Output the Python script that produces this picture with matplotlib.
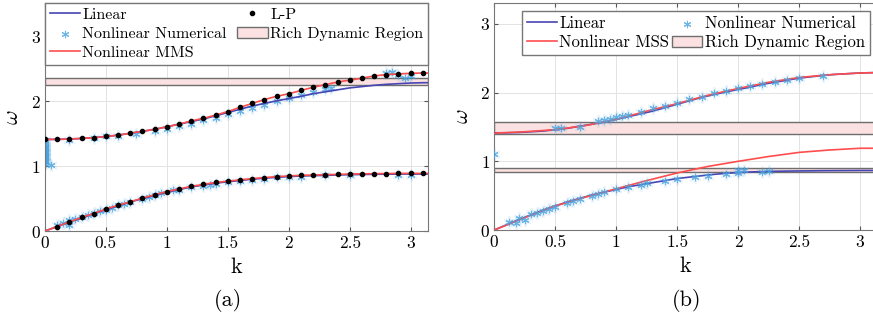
import numpy as np
import matplotlib.pyplot as plt

plt.rcParams['font.family'] = ['cmr10', 'DejaVu Serif']
plt.rcParams['mathtext.fontset'] = 'cm'
plt.rcParams['axes.formatter.use_mathtext'] = True

# k grid for the curves
k_line = [0.0, 0.1, 0.2, 0.3, 0.4, 0.5, 0.6, 0.7, 0.8, 0.9, 1.0, 1.1, 1.2, 1.3, 1.4, 1.5,
          1.6, 1.7, 1.8, 1.9, 2.0, 2.1, 2.2, 2.3, 2.4, 2.5, 2.6, 2.7, 2.8, 2.9, 3.0, 3.1, 3.1416]

# linear dispersion
lin_ac = [0.0, 0.07, 0.14, 0.20, 0.27, 0.33, 0.39, 0.45, 0.50, 0.55, 0.60, 0.64, 0.68, 0.71,
          0.74, 0.76, 0.78, 0.80, 0.815, 0.83, 0.84, 0.85, 0.855, 0.86, 0.865, 0.87, 0.873,
          0.876, 0.878, 0.879, 0.88, 0.88, 0.88]
lin_op = [1.415, 1.415, 1.42, 1.43, 1.44, 1.46, 1.48, 1.51, 1.54, 1.57, 1.61, 1.65, 1.69,
          1.73, 1.78, 1.83, 1.88, 1.93, 1.97, 2.01, 2.045, 2.08, 2.12, 2.15, 2.18, 2.21, 2.23,
          2.25, 2.265, 2.275, 2.285, 2.29, 2.29]

# (a) nonlinear MMS
mms_ac = [0.0, 0.07, 0.14, 0.21, 0.27, 0.34, 0.40, 0.45, 0.51, 0.56, 0.61, 0.65, 0.69, 0.72,
          0.75, 0.77, 0.79, 0.81, 0.825, 0.84, 0.85, 0.86, 0.865, 0.87, 0.875, 0.88, 0.883,
          0.886, 0.888, 0.889, 0.89, 0.89, 0.89]
mms_op = [1.415, 1.415, 1.42, 1.43, 1.44, 1.46, 1.48, 1.51, 1.54, 1.57, 1.61, 1.65, 1.70,
          1.74, 1.79, 1.845, 1.91, 1.97, 2.03, 2.08, 2.12, 2.17, 2.22, 2.26, 2.30, 2.33, 2.36,
          2.395, 2.415, 2.425, 2.435, 2.44, 2.44]

# (a) L-P dots
lp_k_ac = [0.1, 0.2, 0.3, 0.4, 0.5, 0.6, 0.7, 0.8, 0.9, 1.0, 1.1, 1.2, 1.3, 1.4, 1.5, 1.6, 1.7,
           1.8, 1.9, 2.0, 2.1, 2.2, 2.3, 2.4, 2.5, 2.6, 2.7, 2.8, 2.9, 3.0, 3.1]
lp_ac = [0.07, 0.14, 0.21, 0.27, 0.34, 0.40, 0.45, 0.51, 0.56, 0.61, 0.65, 0.69, 0.72, 0.75,
         0.77, 0.79, 0.81, 0.825, 0.84, 0.85, 0.86, 0.865, 0.87, 0.875, 0.88, 0.883, 0.886,
         0.888, 0.889, 0.89, 0.89]
lp_k_op = [0.0] + lp_k_ac
lp_op = [1.415, 1.415, 1.42, 1.43, 1.44, 1.46, 1.48, 1.51, 1.54, 1.57, 1.61, 1.65, 1.70,
         1.74, 1.79, 1.845, 1.91, 1.97, 2.03, 2.08, 2.12, 2.17, 2.22, 2.26, 2.30, 2.33, 2.36,
         2.395, 2.415, 2.425, 2.435, 2.44]

# (a) nonlinear numerical
num_a_k = [0.1, 0.15, 0.2, 0.2, 0.25, 0.3, 0.35, 0.4, 0.45, 0.5, 0.55, 0.6, 0.65, 0.7, 0.8,
           0.85, 0.9, 0.95, 1.05, 1.1, 1.2, 1.3, 1.35, 1.4, 1.5, 1.6, 1.7, 1.8, 1.9, 2.0, 2.1,
           2.3, 2.5, 2.9, 3.0,
           0.05, 0.2, 0.4, 0.5, 0.6, 0.75, 0.9, 1.0, 1.1, 1.2, 1.3, 1.4, 1.5, 1.6, 1.7, 1.8,
           1.9, 2.0, 2.1, 2.2, 2.3, 2.35, 2.8, 2.85, 2.9, 2.95, 3.0,
           0, 0, 0, 0, 0, 0, 0, 0, 0, 0, 0, 0, 0, 0, 0, 0, 0, 0]
num_a_w = [0.10, 0.13, 0.10, 0.17, 0.19, 0.22, 0.25, 0.28, 0.31, 0.33, 0.36, 0.40, 0.42, 0.45,
           0.49, 0.53, 0.56, 0.58, 0.63, 0.64, 0.68, 0.70, 0.71, 0.73, 0.76, 0.77, 0.79, 0.81,
           0.83, 0.83, 0.84, 0.86, 0.87, 0.86, 0.87,
           1.02, 1.41, 1.44, 1.46, 1.47, 1.50, 1.54, 1.58, 1.62, 1.66, 1.71, 1.75, 1.80, 1.85,
           1.90, 1.95, 2.00, 2.05, 2.10, 2.15, 2.19, 2.21, 2.44, 2.45, 2.41, 2.37, 2.39,
           1.04, 1.06, 1.08, 1.10, 1.12, 1.14, 1.16, 1.18, 1.20, 1.22, 1.24, 1.26, 1.28, 1.30,
           1.32, 1.35, 1.38, 1.41]

# (b) linear acoustic branch
lin_b_ac = [0.0, 0.075, 0.15, 0.22, 0.29, 0.35, 0.41, 0.46, 0.51, 0.55, 0.59, 0.63, 0.66,
            0.69, 0.72, 0.75, 0.77, 0.79, 0.81, 0.825, 0.835, 0.845, 0.85, 0.855, 0.858,
            0.86, 0.862, 0.864, 0.865, 0.866, 0.867, 0.867, 0.867]

# (b) nonlinear MSS
mss_k = [0.0, 0.25, 0.5, 0.75, 1.0, 1.25, 1.5, 1.75, 2.0, 2.25, 2.5, 2.75, 3.0, 3.1416]
mss_ac = [0.0, 0.18, 0.35, 0.48, 0.60, 0.72, 0.83, 0.925, 1.00, 1.07, 1.13, 1.165, 1.19, 1.19]
mss_op = [1.41, 1.43, 1.46, 1.52, 1.61, 1.73, 1.84, 1.96, 2.06, 2.15, 2.22, 2.26, 2.285, 2.29]

# (b) nonlinear numerical
num_b_k = [0.0, 0.5, 0.55, 0.7, 0.85, 0.9, 0.95, 1.0, 1.05, 1.1, 1.2, 1.3, 1.4, 1.5, 1.6, 1.7,
           1.8, 1.9, 2.0, 2.1, 2.2, 2.3, 2.4, 2.5, 2.7,
           0.12, 0.18, 0.2, 0.25, 0.3, 0.35, 0.4, 0.45, 0.5, 0.6, 0.65, 0.7, 0.8, 0.85, 0.9,
           1.0, 1.1, 1.2, 1.25, 1.4, 1.5, 1.65, 1.75, 1.9, 2.0, 2.0, 2.05, 2.2, 2.25]
num_b_w = [1.11, 1.48, 1.49, 1.50, 1.58, 1.60, 1.62, 1.64, 1.66, 1.68, 1.72, 1.77, 1.81, 1.85,
           1.90, 1.94, 1.99, 2.02, 2.06, 2.09, 2.12, 2.15, 2.18, 2.21, 2.24,
           0.12, 0.10, 0.17, 0.15, 0.23, 0.25, 0.28, 0.31, 0.34, 0.39, 0.42, 0.45, 0.50, 0.53,
           0.55, 0.60, 0.63, 0.66, 0.69, 0.72, 0.74, 0.77, 0.79, 0.81, 0.83, 0.88, 0.88, 0.85,
           0.86]

# rich dynamic regions (omega ranges)
rich_a = [(2.26, 2.36)]
rich_b = [(1.40, 1.57), (0.84, 0.90)]

c_lin = '#4646b4'
c_red = '#ff4d4d'
c_num = '#4aa3df'
c_fill = '#fbe1e1'
c_edge = '#6e6e6e'
ast = (6, 2, 0)

fig = plt.figure(figsize=(8.73, 3.2), dpi=100)
ax1 = fig.add_axes([0.0515, 0.278, 0.4387, 0.7125])
ax2 = fig.add_axes([0.566, 0.281, 0.439, 0.709])


def style(ax, ymax):
    ax.set_xlim(0, np.pi)
    ax.set_ylim(0, ymax)
    ax.set_xticks([0, 0.5, 1, 1.5, 2, 2.5, 3])
    ax.set_xticklabels(['0', '0.5', '1', '1.5', '2', '2.5', '3'])
    ax.set_yticks([0, 1, 2, 3])
    ax.grid(True, color='#e3e3e3', lw=0.7)
    ax.set_axisbelow(True)
    ax.tick_params(direction='in', top=True, right=True, labelsize=12.5, length=3,
                   color='#555555', pad=3)
    for s in ax.spines.values():
        s.set_color('#777777')
        s.set_linewidth(0.8)
    ax.set_xlabel('k', fontsize=16, labelpad=5)
    ax.set_ylabel(r'$\omega$', fontsize=16, labelpad=6)


def numerical(ax, k, w, z):
    # soft halo + asterisk
    ax.scatter(k, w, marker=ast, s=50, color=c_num, alpha=0.12, linewidths=2.0, zorder=z)
    return ax.scatter(k, w, marker=ast, s=22, color=c_num, alpha=0.8, linewidths=0.8,
                      zorder=z)


# ---- panel (a)
style(ax1, 3.52)
for lo, hi in rich_a:
    ax1.axhspan(lo, hi, facecolor=c_fill, edgecolor=c_edge, lw=1.0, zorder=1)
h_num = numerical(ax1, num_a_k, num_a_w, 2)
ax1.plot(k_line, lin_ac, color=c_lin, lw=1.2, zorder=3)
h_lin, = ax1.plot(k_line, lin_op, color=c_lin, lw=1.2, zorder=3)
ax1.plot(k_line, mms_ac, color=c_red, lw=1.2, zorder=4)
h_mms, = ax1.plot(k_line, mms_op, color=c_red, lw=1.2, zorder=4)
ax1.plot(lp_k_ac, lp_ac, 'o', color='black', ms=3, zorder=5)
h_lp, = ax1.plot(lp_k_op, lp_op, 'o', color='black', ms=3, zorder=5)
h_rich = plt.Rectangle((0, 0), 1, 1, facecolor=c_fill, edgecolor=c_edge)
leg1 = ax1.legend([h_lin, h_num, h_mms, h_lp, h_rich],
                  ['Linear', 'Nonlinear Numerical', 'Nonlinear MMS', 'L-P',
                   'Rich Dynamic Region'],
                  ncol=2, loc='upper left', bbox_to_anchor=(0, 0, 1, 1), fontsize=11.5,
                  mode='expand', borderaxespad=0, fancybox=False, framealpha=1,
                  handlelength=1.9, handletextpad=0.15, columnspacing=0.2,
                  labelspacing=0.3, borderpad=0.3)
leg1.get_frame().set_edgecolor('#777777')

# ---- panel (b)
style(ax2, 3.3)
for lo, hi in rich_b:
    ax2.axhspan(lo, hi, facecolor=c_fill, edgecolor=c_edge, lw=1.0, zorder=1)
ax2.plot(k_line, lin_b_ac, color=c_lin, lw=1.2, zorder=3)
h_lin2, = ax2.plot(k_line, lin_op, color=c_lin, lw=1.2, zorder=3)
ax2.plot(mss_k, mss_ac, color=c_red, lw=1.2, zorder=4)
h_mss, = ax2.plot(mss_k, mss_op, color=c_red, lw=1.2, zorder=4)
h_num2 = numerical(ax2, num_b_k, num_b_w, 5)
leg2 = ax2.legend([h_lin2, h_mss, h_num2, h_rich],
                  ['Linear', 'Nonlinear MSS', 'Nonlinear Numerical', 'Rich Dynamic Region'],
                  ncol=2, loc='upper left', bbox_to_anchor=(0.072, 0.966), fontsize=12,
                  borderaxespad=0, fancybox=False, framealpha=1, handlelength=1.8,
                  handletextpad=0.15, columnspacing=0.2, labelspacing=0.22, borderpad=0.3)
leg2.get_frame().set_edgecolor('#777777')

fig.text(0.261, 0.062, '(a)', ha='center', va='center', fontsize=16)
fig.text(0.786, 0.062, '(b)', ha='center', va='center', fontsize=16)

fig.savefig('out.png', dpi=100)
